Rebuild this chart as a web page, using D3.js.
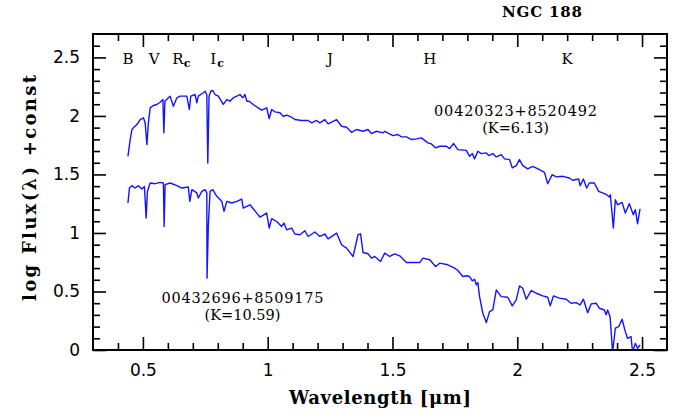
<!DOCTYPE html>
<html>
<head>
<meta charset="utf-8">
<script src="https://cdn.jsdelivr.net/npm/d3@7"></script>
<style>
body { margin: 0; background: #fff; }
</style>
</head>
<body>
<svg width="681" height="419"></svg>
<script>
// upper star: 00420323+8520492
var waveTop = [0.440, 0.449, 0.456, 0.462, 0.476, 0.489, 0.502, 0.509, 0.516, 0.522, 0.529, 0.542, 0.556, 0.569, 0.580, 0.584, 0.588, 0.602, 0.609, 0.622,
  0.636, 0.649, 0.676, 0.686, 0.692, 0.709, 0.716, 0.722, 0.742, 0.749, 0.756, 0.760, 0.765, 0.772, 0.780, 0.789, 0.802, 0.822, 0.836, 0.849,
  0.862, 0.876, 0.889, 0.900, 0.909, 0.916, 0.926, 0.942, 0.962, 0.976, 0.996, 1.006, 1.016, 1.029, 1.049, 1.062, 1.076, 1.096, 1.109, 1.136,
  1.162, 1.176, 1.196, 1.209, 1.229, 1.242, 1.276, 1.296, 1.316, 1.336, 1.356, 1.382, 1.402, 1.416, 1.436, 1.462, 1.469, 1.502, 1.522, 1.536,
  1.556, 1.576, 1.596, 1.616, 1.642, 1.656, 1.673, 1.689, 1.716, 1.729, 1.745, 1.762, 1.796, 1.809, 1.820, 1.829, 1.842, 1.856, 1.876, 1.886,
  1.902, 1.916, 1.936, 1.949, 1.969, 1.980, 1.996, 2.009, 2.022, 2.042, 2.062, 2.089, 2.109, 2.122, 2.140, 2.156, 2.182, 2.209, 2.222, 2.246,
  2.252, 2.265, 2.278, 2.289, 2.309, 2.326, 2.342, 2.358, 2.369, 2.373, 2.385, 2.393, 2.402, 2.420, 2.433, 2.449, 2.465, 2.473, 2.482, 2.492];
var fluxTop = [1.655, 1.798, 1.884, 1.898, 1.926, 1.969, 1.984, 1.941, 1.755, 1.941, 2.069, 2.089, 2.098, 2.117, 2.140, 1.855, 2.126, 2.155, 2.169, 2.083,
  2.155, 2.169, 2.169, 2.055, 2.169, 2.183, 2.112, 2.169, 2.198, 2.211, 2.183, 1.598, 2.169, 2.211, 2.217, 2.183, 2.169, 2.098, 2.140, 2.126,
  2.155, 2.169, 2.183, 2.155, 2.183, 2.126, 2.126, 2.098, 2.069, 2.049, 2.069, 1.978, 2.055, 2.035, 2.027, 1.997, 2.006, 1.989, 1.969, 1.961,
  1.961, 1.941, 1.961, 1.941, 1.969, 1.932, 1.969, 1.912, 1.903, 1.860, 1.884, 1.869, 1.884, 1.849, 1.869, 1.855, 1.869, 1.832, 1.841, 1.821,
  1.821, 1.798, 1.804, 1.812, 1.770, 1.761, 1.727, 1.741, 1.741, 1.721, 1.764, 1.712, 1.706, 1.655, 1.678, 1.633, 1.698, 1.678, 1.684, 1.661,
  1.678, 1.650, 1.670, 1.633, 1.627, 1.556, 1.575, 1.627, 1.575, 1.547, 1.569, 1.541, 1.518, 1.421, 1.498, 1.479, 1.484, 1.470, 1.450, 1.461,
  1.404, 1.461, 1.384, 1.427, 1.427, 1.355, 1.342, 1.327, 1.307, 1.327, 1.042, 1.284, 1.241, 1.261, 1.170, 1.250, 1.156, 1.199, 1.079, 1.205];

// lower star: 00432696+8509175
var waveBot = [0.440, 0.446, 0.456, 0.469, 0.482, 0.496, 0.506, 0.513, 0.518, 0.529, 0.549, 0.569, 0.582, 0.585, 0.589, 0.609, 0.636, 0.656, 0.682, 0.688,
  0.696, 0.716, 0.722, 0.736, 0.749, 0.756, 0.757, 0.762, 0.769, 0.780, 0.796, 0.816, 0.825, 0.836, 0.856, 0.876, 0.896, 0.902, 0.916, 0.929,
  0.956, 0.969, 0.996, 1.006, 1.016, 1.036, 1.056, 1.065, 1.076, 1.096, 1.109, 1.129, 1.149, 1.162, 1.189, 1.209, 1.229, 1.242, 1.276, 1.296,
  1.316, 1.342, 1.362, 1.372, 1.382, 1.402, 1.416, 1.429, 1.452, 1.469, 1.489, 1.509, 1.529, 1.556, 1.609, 1.622, 1.649, 1.673, 1.689, 1.722,
  1.749, 1.762, 1.782, 1.796, 1.809, 1.820, 1.829, 1.836, 1.842, 1.849, 1.862, 1.876, 1.889, 1.902, 1.916, 1.936, 1.962, 1.980, 1.996, 2.009,
  2.022, 2.036, 2.056, 2.076, 2.102, 2.122, 2.132, 2.145, 2.169, 2.196, 2.216, 2.236, 2.252, 2.265, 2.282, 2.296, 2.316, 2.329, 2.349, 2.356,
  2.362, 2.372, 2.382, 2.393, 2.406, 2.420, 2.433, 2.442, 2.456, 2.462, 2.473, 2.482, 2.492];
var fluxBot = [1.256, 1.384, 1.404, 1.384, 1.404, 1.376, 1.398, 1.128, 1.355, 1.427, 1.421, 1.432, 1.427, 1.056, 1.413, 1.427, 1.404, 1.384, 1.393, 1.270,
  1.370, 1.342, 1.299, 1.355, 1.370, 1.342, 0.614, 1.056, 1.355, 1.370, 1.313, 1.270, 1.184, 1.270, 1.256, 1.270, 1.290, 1.213, 1.227, 1.241,
  1.170, 1.136, 1.170, 1.042, 1.122, 1.098, 1.056, 1.085, 1.027, 1.042, 0.991, 0.985, 1.019, 0.970, 1.008, 0.970, 0.991, 0.950, 0.999, 0.899,
  0.871, 0.799, 0.985, 0.993, 0.833, 0.822, 0.785, 0.799, 0.756, 0.828, 0.799, 0.822, 0.805, 0.747, 0.747, 0.785, 0.771, 0.713, 0.742, 0.728,
  0.699, 0.679, 0.628, 0.634, 0.628, 0.591, 0.605, 0.557, 0.576, 0.456, 0.314, 0.234, 0.328, 0.342, 0.514, 0.456, 0.451, 0.377, 0.428, 0.548,
  0.528, 0.434, 0.508, 0.485, 0.462, 0.451, 0.377, 0.462, 0.443, 0.434, 0.400, 0.405, 0.385, 0.434, 0.319, 0.394, 0.400, 0.357, 0.342, 0.300,
  0.342, 0.285, -0.020, 0.186, 0.199, 0.263, 0.157, 0.100, 0.114, -0.020, 0.057, 0.015, 0.043];

var bandNames = ['B', 'V', 'R', 'I', 'J', 'H', 'K'];
var bandSubs = ['', '', 'c', 'c', '', '', ''];
var bandWaves = [0.44, 0.545, 0.64, 0.782, 1.25, 1.65, 2.2];

var xMajor = [0.5, 1, 1.5, 2, 2.5];
var yMajor = [0, 0.5, 1, 1.5, 2, 2.5];

var margin = {top: 34, right: 14, bottom: 69, left: 93};
var width = 681 - margin.left - margin.right,
    height = 419 - margin.top - margin.bottom;

var svg = d3.select('svg');
var g = svg.append('g').attr('transform', 'translate(' + margin.left + ',' + margin.top + ')');

var x = d3.scaleLinear().domain([0.3, 2.6]).range([0, width]);
var y = d3.scaleLinear().domain([0, 2.7]).range([height, 0]);

var xMinor = d3.range(4, 26).map(function (d) { return d / 10; }).filter(function (d) { return xMajor.indexOf(d) < 0; });
var yMinor = d3.range(1, 27).map(function (d) { return d / 10; }).filter(function (d) { return yMajor.indexOf(d) < 0; });

g.append('clipPath').attr('id', 'clip')
  .append('rect').attr('width', width).attr('height', height);

var line = d3.line()
  .x(function (d) { return x(d[0]); })
  .y(function (d) { return y(d[1]); });

var spectra = [d3.zip(waveTop, fluxTop), d3.zip(waveBot, fluxBot)];
g.append('g').attr('clip-path', 'url(#clip)')
  .selectAll('path')
  .data(spectra)
  .join('path')
  .attr('d', line)
  .attr('fill', 'none')
  .attr('stroke', '#1414ff')
  .attr('stroke-width', 1.4)
  .attr('stroke-linejoin', 'round');

// axes, ticks pointing inward on all four sides
function styleAxis(sel) {
  sel.select('.domain').remove();
  sel.selectAll('line').attr('stroke', '#000').attr('stroke-width', 1.6);
  sel.selectAll('text').attr('fill', '#000').style('font-family', 'DejaVu Sans').style('font-size', '17px');
}

g.append('g').attr('transform', 'translate(0,' + height + ')')
  .call(d3.axisBottom(x).tickValues(xMajor).tickSize(-13).tickPadding(14).tickFormat(String))
  .call(styleAxis);
g.append('g').attr('transform', 'translate(0,' + height + ')')
  .call(d3.axisBottom(x).tickValues(xMinor).tickSize(-7).tickFormat(''))
  .call(styleAxis);
g.append('g')
  .call(d3.axisTop(x).tickValues(xMajor).tickSize(-13).tickFormat(''))
  .call(styleAxis);
g.append('g')
  .call(d3.axisTop(x).tickValues(xMinor).tickSize(-7).tickFormat(''))
  .call(styleAxis);

g.append('g')
  .call(d3.axisLeft(y).tickValues(yMajor).tickSize(-13).tickPadding(13).tickFormat(String))
  .call(styleAxis);
g.append('g')
  .call(d3.axisLeft(y).tickValues(yMinor).tickSize(-7).tickFormat(''))
  .call(styleAxis);
g.append('g').attr('transform', 'translate(' + width + ',0)')
  .call(d3.axisRight(y).tickValues(yMajor).tickSize(-13).tickFormat(''))
  .call(styleAxis);
g.append('g').attr('transform', 'translate(' + width + ',0)')
  .call(d3.axisRight(y).tickValues(yMinor).tickSize(-7).tickFormat(''))
  .call(styleAxis);

g.append('rect')
  .attr('width', width).attr('height', height)
  .attr('fill', 'none').attr('stroke', '#000').attr('stroke-width', 2);

// photometric band labels
var bands = g.append('g').style('font-family', 'DejaVu Serif').attr('fill', '#000');
bandNames.forEach(function (b, i) {
  bands.append('text')
    .attr('x', x(bandWaves[i]))
    .attr('y', 30)
    .attr('text-anchor', 'middle')
    .style('font-size', '15px')
    .text(b);
  if (bandSubs[i]) {
    bands.append('text')
      .attr('x', x(bandWaves[i]) + (b === 'I' ? 4 : 6))
      .attr('y', 33)
      .style('font-size', '11px')
      .style('font-weight', 'bold')
      .text(bandSubs[i]);
  }
});

// star labels
var labels = g.append('g').style('font-family', 'DejaVu Serif').style('font-size', '14.5px')
  .attr('fill', '#000').attr('text-anchor', 'middle');
labels.append('text').attr('x', x(1.993)).attr('y', 82)
  .attr('textLength', 163).attr('lengthAdjust', 'spacing').text('00420323+8520492');
labels.append('text').attr('x', x(1.993)).attr('y', 99).text('(K=6.13)');
labels.append('text').attr('x', x(0.899)).attr('y', 269)
  .attr('textLength', 162).attr('lengthAdjust', 'spacing').text('00432696+8509175');
labels.append('text').attr('x', x(0.899)).attr('y', 286).text('(K=10.59)');

// titles
svg.append('text')
  .attr('x', 542).attr('y', 17)
  .attr('text-anchor', 'middle')
  .style('font-family', 'DejaVu Serif').style('font-weight', 'bold').style('font-size', '15px')
  .attr('textLength', 80).attr('lengthAdjust', 'spacing')
  .text('NGC  188');

svg.append('text')
  .attr('x', margin.left + width / 2).attr('y', 404)
  .attr('text-anchor', 'middle')
  .style('font-family', 'DejaVu Serif').style('font-weight', 'bold').style('font-size', '18px')
  .attr('textLength', 182).attr('lengthAdjust', 'spacing')
  .text('Wavelength [\u03bcm]');

svg.append('text')
  .attr('transform', 'translate(36,' + (margin.top + height / 2 - 4) + ') rotate(-90)')
  .attr('text-anchor', 'middle')
  .style('font-family', 'DejaVu Serif').style('font-weight', 'bold').style('font-size', '18px')
  .attr('textLength', 226).attr('lengthAdjust', 'spacing')
  .text('log Flux(\u03bb)  +const');
</script>
</body>
</html>
